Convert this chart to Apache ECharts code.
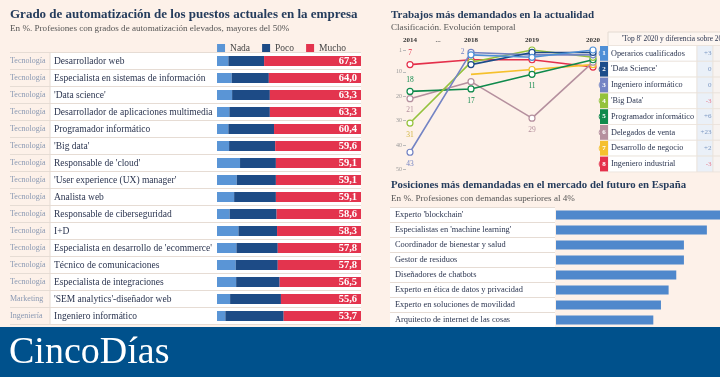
<!DOCTYPE html>
<html>
<head>
<meta charset="utf-8">
<script src="https://cdn.jsdelivr.net/npm/echarts@6/dist/echarts.min.js"></script>
<style>
html,body{margin:0;padding:0;background:#fdf1e9;}
#main{width:720px;height:377px;}
</style>
</head>
<body>
<div id="main"></div>
<script>
// grado de automatizacion (%)
var sectores = ['Tecnología','Tecnología','Tecnología','Tecnología','Tecnología','Tecnología','Tecnología','Tecnología',
    'Tecnología','Tecnología','Tecnología','Tecnología','Tecnología','Tecnología','Marketing','Ingeniería'];
var puestos = ['Desarrollador web','Especialista en sistemas de información',"'Data science'",
    'Desarrollador de aplicaciones multimedia','Programador informático',"'Big data'","Responsable de 'cloud'",
    "'User experience (UX) manager'",'Analista web','Responsable de ciberseguridad','I+D',
    "Especialista en desarrollo de 'ecommerce'",'Técnico de comunicaciones','Especialista de integraciones',
    "'SEM analytics'-diseñador web",'Ingeniero informático'];
var nada = [7.9, 10.2, 10.5, 8.6, 7.9, 8.4, 16.0, 13.7, 11.9, 8.8, 14.9, 13.5, 13.0, 13.3, 9.1, 5.8];
var poco = [24.8, 25.8, 26.2, 28.1, 31.7, 32.0, 24.9, 27.2, 29.0, 32.6, 26.8, 28.7, 29.2, 30.2, 35.3, 40.5];
var mucho = [67.3, 64.0, 63.3, 63.3, 60.4, 59.6, 59.1, 59.1, 59.1, 58.6, 58.3, 57.8, 57.8, 56.5, 55.6, 53.7];

// trabajos mas demandados (clasificacion)
var anios = ['2014', '2018', '2019', '2020'];
var trabajos = ['Operarios cualificados', "'Data Science'", 'Ingeniero informático', "'Big Data'",
    'Programador informático', 'Delegados de venta', 'Desarrollo de negocio', 'Ingeniero industrial'];
var rankOperarios = [null, 3, 4, 1];
var rankDataScience = [null, 7, 2, 2];
var rankIngInformatico = [43, 2, 3, 3];
var rankBigData = [31, 6, 1, 4];
var rankProgramador = [18, 17, 11, 5];
var rankDelegados = [21, 14, 29, 6];
var rankDesarrollo = [null, 11, 9, 7];
var rankIngIndustrial = [7, 5, 5, 8];
var diferencia = ['+3', '0', '0', '-3', '+6', '+23', '+2', '-3'];
var rankTicks = [1, 10, 20, 30, 40, 50];

// posiciones del futuro (%)
var posiciones = ["Experto 'blockchain'", "Especialistas en 'machine learning'", 'Coordinador de bienestar y salud',
    'Gestor de residuos', 'Diseñadores de chatbots', 'Experto en ética de datos y privacidad',
    'Experto en soluciones de movilidad', 'Arquitecto de internet de las cosas'];
var demanda = [7.6, 6.9, 5.85, 5.85, 5.5, 5.15, 4.8, 4.45];

var serif = 'Liberation Serif';
var cNada = '#5a95d6', cPoco = '#1d4b86', cMucho = '#e3344e';
var lineColors = ['#4f8fd6', '#1c4c8a', '#7484c4', '#94c23c', '#0f8a4c', '#b5909e', '#f5c02c', '#e4304b'];
var rankSeries = [rankOperarios, rankDataScience, rankIngInformatico, rankBigData,
    rankProgramador, rankDelegados, rankDesarrollo, rankIngIndustrial];
// etiquetas visibles sobre la linea: [serie, punto, posicion]
var etiquetas = [[7, 0, 'top'], [4, 0, 'top'], [5, 0, 'bottom'], [3, 0, 'bottom'], [2, 0, 'bottom'],
    [2, 1, 'left'], [4, 1, 'bottom'], [4, 2, 'bottom'], [5, 2, 'bottom']];
// puntos sin circulo
var sinMarca = [[6, 1]];

var rowTop = 52.5, rowH = 17;
var leftH = rowH * puestos.length;

var myChart = echarts.init(document.getElementById('main'));

var lineSeries = rankSeries.map(function (arr, s) {
    var data = arr.map(function (v, i) {
        var item = {value: v};
        etiquetas.forEach(function (e) {
            if (e[0] == s && e[1] == i) {
                item.label = {show: true, position: e[2], distance: e[2] == 'left' ? 3 : 4};
            }
        });
        sinMarca.forEach(function (e) {
            if (e[0] == s && e[1] == i) item.symbol = 'none';
        });
        return item;
    });
    return {
        type: 'line', xAxisIndex: 3, yAxisIndex: 3, name: trabajos[s],
        data: data, symbol: 'circle', symbolSize: 6, z: 10 - s,
        lineStyle: {color: lineColors[s], width: 1.6},
        itemStyle: {color: '#fff', borderColor: lineColors[s], borderWidth: 1.2},
        label: {show: false, color: s == 3 ? '#d2b540' : lineColors[s], fontFamily: serif, fontSize: 7.5,
            formatter: function (p) { return p.value; }}
    };
});

// tabla 'Top 8'
var tabla = [];
var tTop = 45.5, tH = 15.8;
tabla.push({type: 'rect', shape: {x: 608, y: 32, width: 130, height: tTop - 32},
    style: {fill: '#fdf6f1', stroke: '#e4dad2', lineWidth: 1}, z: 20});
tabla.push({type: 'text', x: 622, y: 39, z: 21,
    style: {text: "'Top 8' 2020 y diferencia sobre 2019", fill: '#2b3550', font: '7.4px ' + serif, verticalAlign: 'middle'}});
trabajos.forEach(function (t, i) {
    var y = tTop + tH * i;
    var cy = y + tH / 2;
    tabla.push({type: 'circle', shape: {cx: 603.5, cy: cy, r: 4.3}, z: 19,
        style: {fill: '#fff', stroke: lineColors[i], lineWidth: 1}});
    tabla.push({type: 'rect', shape: {x: 608, y: y, width: 89, height: tH}, z: 20,
        style: {fill: '#fff', stroke: '#ebe2da', lineWidth: 0.8}});
    tabla.push({type: 'rect', shape: {x: 697, y: y, width: 16, height: tH}, z: 20,
        style: {fill: '#eaf0f8', stroke: '#ebe2da', lineWidth: 0.8}});
    tabla.push({type: 'rect', shape: {x: 713, y: y, width: 12, height: tH}, z: 20,
        style: {fill: '#f8f3f0', stroke: '#ebe2da', lineWidth: 0.8}});
    tabla.push({type: 'rect', shape: {x: 600, y: y + 0.5, width: 8, height: tH - 1}, z: 21,
        style: {fill: lineColors[i]}});
    tabla.push({type: 'text', x: 604, y: cy, z: 22,
        style: {text: String(i + 1), fill: '#fff', font: 'bold 7px ' + serif, align: 'center', verticalAlign: 'middle'}});
    tabla.push({type: 'text', x: 611, y: cy, z: 22,
        style: {text: t, fill: '#2b3550', font: '8.2px ' + serif, verticalAlign: 'middle'}});
    tabla.push({type: 'text', x: 711.5, y: cy, z: 22,
        style: {text: diferencia[i], fill: diferencia[i].charAt(0) == '-' ? '#e77d90' : '#7d98c3',
            font: '7px ' + serif, align: 'right', verticalAlign: 'middle'}});
});

var textos = [
    {type: 'text', x: 10, y: 15, style: {text: 'Grado de automatización de los puestos actuales en la empresa',
        fill: '#253c5c', font: 'bold 13px ' + serif, verticalAlign: 'middle'}},
    {type: 'text', x: 10, y: 29, style: {text: 'En %. Profesiones con grados de automatización elevados, mayores del 50%',
        fill: '#555', font: '9.1px ' + serif, verticalAlign: 'middle'}},
    {type: 'line', shape: {x1: 50, y1: rowTop, x2: 50, y2: rowTop + leftH}, style: {stroke: '#e4dad2', lineWidth: 1}, z: 5},
    {type: 'text', x: 391, y: 15, style: {text: 'Trabajos más demandados en la actualidad',
        fill: '#253c5c', font: 'bold 11px ' + serif, verticalAlign: 'middle'}},
    {type: 'text', x: 391, y: 28, style: {text: 'Clasificación. Evolución temporal',
        fill: '#555', font: '9.1px ' + serif, verticalAlign: 'middle'}},
    {type: 'text', x: 438, y: 40, style: {text: '...', fill: '#555', font: 'bold 7px ' + serif,
        align: 'center', verticalAlign: 'middle'}},
    {type: 'text', x: 391, y: 185, style: {text: 'Posiciones más demandadas en el mercado del futuro en España',
        fill: '#253c5c', font: 'bold 10.8px ' + serif, verticalAlign: 'middle'}},
    {type: 'text', x: 391, y: 199, style: {text: 'En %. Profesiones con demandas superiores al 4%',
        fill: '#555', font: '9.1px ' + serif, verticalAlign: 'middle'}},
    {type: 'rect', shape: {x: 0, y: 327, width: 720, height: 50}, style: {fill: '#00518c'}, z: 100},
    {type: 'text', x: 9, y: 353, z: 101, style: {text: 'CincoDías', fill: '#fff', font: '38px ' + serif, verticalAlign: 'middle'}}
];

var hidden = {show: false};
var option = {
    backgroundColor: '#fdf1e9',
    animation: false,
    legend: {
        data: ['Nada', 'Poco', 'Mucho'], right: 369, top: 38, itemWidth: 8, itemHeight: 8, itemGap: 12,
        icon: 'rect', textStyle: {fontFamily: serif, fontSize: 9.5, color: '#444'}
    },
    grid: [
        {left: 10, right: 359, top: rowTop, height: leftH},
        {left: 50, right: 359, top: rowTop, height: leftH, show: true, backgroundColor: '#fff', borderWidth: 0},
        {left: 217, right: 359, top: rowTop, height: leftH},
        {left: 410, right: 127, top: 50, height: 119.3},
        {left: 390, right: 165, top: 207.5, height: 15 * posiciones.length, show: true, backgroundColor: '#fff', borderWidth: 0},
        {left: 556, right: 0, top: 207.5, height: 15 * posiciones.length}
    ],
    xAxis: [
        {gridIndex: 0, type: 'value', show: false},
        {gridIndex: 1, type: 'value', show: false},
        {gridIndex: 2, type: 'value', min: 0, max: 100, show: false},
        {gridIndex: 3, type: 'category', data: anios, position: 'top', boundaryGap: false,
            axisLine: hidden, axisTick: hidden, splitLine: hidden,
            axisLabel: {margin: 6, fontFamily: serif, fontSize: 7, fontWeight: 'bold', color: '#333'}},
        {gridIndex: 4, type: 'value', show: false},
        {gridIndex: 5, type: 'value', min: 0, max: 7.5, show: false}
    ],
    yAxis: [
        {gridIndex: 0, type: 'category', data: sectores, inverse: true,
            axisLine: hidden, axisTick: hidden,
            splitLine: {show: true, lineStyle: {color: '#e6dcd4', width: 1}},
            axisLabel: {align: 'left', margin: 0, fontFamily: serif, fontSize: 8, color: '#8a99b3'}},
        {gridIndex: 1, type: 'category', data: puestos, inverse: true,
            axisLine: hidden, axisTick: hidden,
            splitLine: {show: true, lineStyle: {color: '#e6dcd4', width: 1}},
            axisLabel: {align: 'left', margin: -4, fontFamily: serif, fontSize: 9.5, color: '#2b3550'}},
        {gridIndex: 2, type: 'category', data: puestos, inverse: true, show: false},
        {gridIndex: 3, type: 'value', inverse: true, min: 1, max: 50, offset: 4,
            axisLine: hidden, splitLine: hidden,
            axisTick: {show: true, length: 3, customValues: rankTicks, lineStyle: {color: '#bbb'}},
            axisLabel: {customValues: rankTicks, margin: 4, fontFamily: serif, fontSize: 6, color: '#999'}},
        {gridIndex: 4, type: 'category', data: posiciones, inverse: true,
            axisLine: hidden, axisTick: hidden,
            splitLine: {show: true, lineStyle: {color: '#e6dcd4', width: 1}},
            axisLabel: {align: 'left', margin: -5, fontFamily: serif, fontSize: 8.4, color: '#2b3550'}},
        {gridIndex: 5, type: 'category', data: posiciones, inverse: true, show: false}
    ],
    series: [
        {name: 'Nada', type: 'bar', stack: 'auto', xAxisIndex: 2, yAxisIndex: 2, data: nada, barWidth: 10,
            itemStyle: {color: cNada}},
        {name: 'Poco', type: 'bar', stack: 'auto', xAxisIndex: 2, yAxisIndex: 2, data: poco, barWidth: 10,
            itemStyle: {color: cPoco}},
        {name: 'Mucho', type: 'bar', stack: 'auto', xAxisIndex: 2, yAxisIndex: 2, data: mucho, barWidth: 10,
            itemStyle: {color: cMucho},
            label: {show: true, position: 'insideRight', distance: 4, color: '#fff', fontFamily: serif,
                fontSize: 10.5, fontWeight: 'bold',
                formatter: function (p) { return p.value.toFixed(1).replace('.', ','); }}},
        {type: 'bar', xAxisIndex: 5, yAxisIndex: 5, data: demanda, barWidth: 9, itemStyle: {color: '#4f88cc'}}
    ].concat(lineSeries),
    graphic: textos.concat(tabla)
};
myChart.setOption(option);
</script>
</body>
</html>
